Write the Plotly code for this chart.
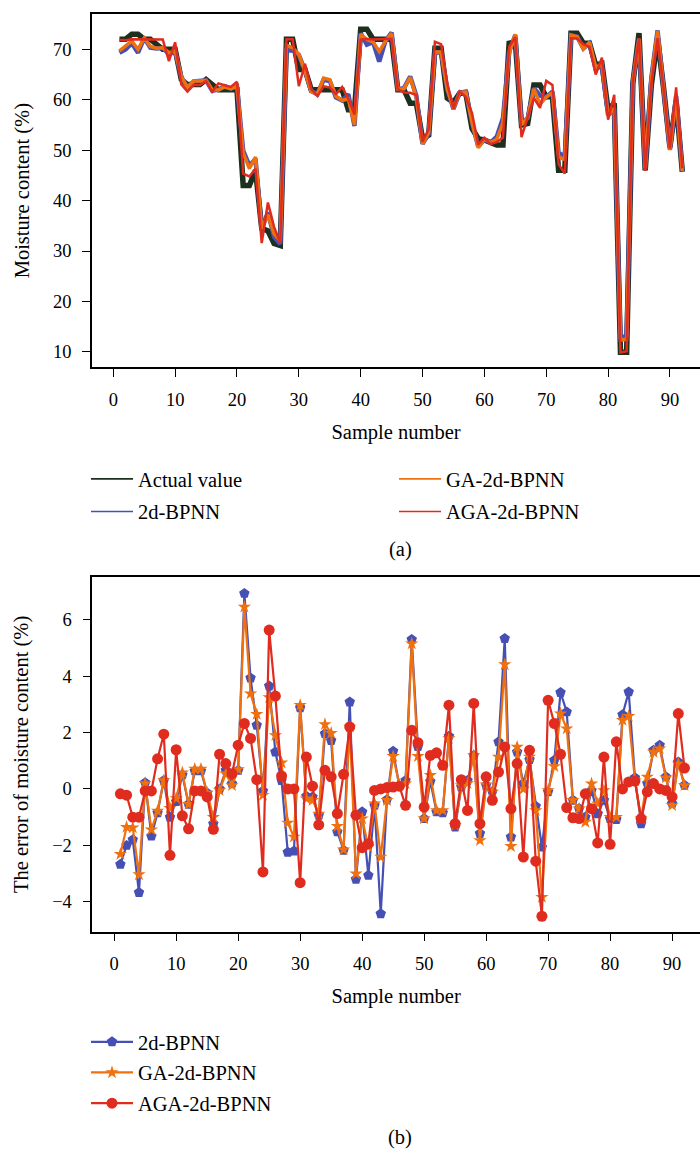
import plotly.graph_objects as go

samples = list(range(1, 93))

actual = [72, 72, 73, 73, 72, 72, 71, 70, 70, 70,
          64, 63, 63, 63, 64, 63, 62, 62, 62, 62,
          43, 43, 46, 34.5, 34, 31.5, 31.1, 72, 72, 66,
          66, 62, 62, 62, 62, 62, 62, 58, 58, 74,
          74, 72, 72, 72, 72, 62, 62, 59.3, 59.3, 52.3,
          53, 70.2, 70.2, 60.3, 59.5, 61.3, 61.3, 54.3, 52.3, 52,
          51.6, 51, 51, 71.2, 71.5, 55, 55.3, 62.9, 62.9, 60.6,
          60.6, 46, 46, 73.2, 73.2, 71.2, 71.2, 66.9, 67.2, 58,
          59.3, 9.9, 9.9, 63.2, 73.2, 46, 63, 72.2, 62, 50.6,
          59.8, 45.7]

pred_2d = [69.33, 70.0, 71.2, 69.33, 72.22, 70.33, 70.16, 70.3, 69.0, 69.55,
           64.5, 62.46, 63.64, 63.64, 63.86, 61.77, 62.0, 62.66, 62.19, 62.66,
           49.93, 46.93, 48.26, 34.43, 37.65, 32.81, 31.4, 69.76, 69.8, 68.88,
           65.74, 61.72, 61.07, 63.96, 63.72, 60.48, 59.83, 61.08, 54.8, 73.19,
           70.94, 71.42, 67.58, 71.62, 73.34, 62.1, 62.3, 64.6, 60.8, 51.25,
           53.27, 69.39, 69.36, 62.17, 58.15, 61.37, 61.6, 55.49, 50.72, 52.13,
           51.5, 52.67, 56.33, 69.5, 72.81, 55.2, 56.34, 62.29, 60.84, 60.5,
           61.62, 49.42, 48.73, 72.8, 72.5, 70.2, 71.15, 66.02, 66.8, 56.95,
           58.22, 12.53, 13.34, 63.6, 71.97, 46.2, 64.37, 73.75, 62.43, 50.08,
           60.76, 45.83]

pred_ga = [69.69, 70.65, 71.63, 69.97, 72.2, 70.56, 70.22, 70.3, 69.32, 69.67,
           64.58, 62.46, 63.71, 63.71, 63.86, 62.0, 61.95, 62.54, 62.13, 62.69,
           49.45, 46.38, 48.65, 34.28, 37.24, 33.4, 32.03, 70.8, 70.3, 68.97,
           65.66, 61.6, 61.12, 64.29, 63.98, 60.68, 59.85, 60.2, 55.0, 72.95,
           71.95, 71.48, 69.59, 71.6, 73.16, 62.15, 62.19, 64.45, 60.46, 51.25,
           53.49, 69.44, 69.44, 62.09, 58.21, 61.43, 61.5, 55.49, 50.48, 52.15,
           51.5, 52.14, 55.41, 69.17, 72.99, 55.0, 56.44, 62.14, 59.07, 60.55,
           61.4, 48.67, 48.14, 72.8, 72.5, 70.03, 71.39, 66.38, 67.15, 57.0,
           58.3, 12.34, 12.48, 63.5, 72.15, 46.43, 64.31, 73.63, 62.4, 50.02,
           60.7, 45.83]

pred_aga = [71.83, 71.78, 72.0, 72.0, 71.93, 71.93, 72.07, 71.94, 67.65, 71.39,
            63.05, 61.59, 62.93, 62.93, 63.72, 61.57, 63.23, 62.9, 62.54, 63.55,
            45.32, 44.79, 46.33, 31.56, 39.63, 34.79, 31.56, 72.0, 72.0, 62.68,
            67.13, 62.1, 60.73, 62.66, 62.43, 61.13, 62.52, 60.2, 57.07, 71.92,
            72.06, 71.95, 72.0, 72.05, 72.07, 62.1, 61.42, 61.38, 60.94, 51.66,
            54.19, 71.48, 71.04, 63.27, 58.27, 61.63, 60.54, 57.33, 51.07, 52.43,
            51.2, 51.6, 52.49, 70.5, 72.4, 52.59, 56.67, 60.34, 58.39, 63.74,
            62.92, 47.23, 45.34, 72.18, 72.15, 71.03, 70.5, 64.99, 68.33, 56.04,
            60.97, 9.9, 10.15, 63.48, 72.15, 45.9, 63.19, 72.2, 61.95, 50.32,
            62.47, 46.44]

err_2d = [-2.67, -2.0, -1.8, -3.67, 0.22, -1.67, -0.84, 0.3, -1.0, -0.45,
          0.5, -0.54, 0.64, 0.64, -0.14, -1.23, 0.0, 0.66, 0.19, 0.66,
          6.93, 3.93, 2.26, -0.07, 3.65, 1.31, 0.3, -2.24, -2.2, 2.88,
          -0.26, -0.28, -0.93, 1.96, 1.72, -1.52, -2.17, 3.08, -3.2, -0.81,
          -3.06, -0.58, -4.42, -0.38, 1.34, 0.1, 0.3, 5.3, 1.5, -1.05,
          0.27, -0.81, -0.84, 1.87, -1.35, 0.07, 0.3, 1.19, -1.58, 0.13,
          -0.1, 1.67, 5.33, -1.7, 1.31, 0.2, 1.04, -0.61, -2.06, -0.1,
          1.02, 3.42, 2.73, -0.4, -0.7, -1.0, -0.05, -0.88, -0.4, -1.05,
          -1.08, 2.63, 3.44, 0.4, -1.23, 0.2, 1.37, 1.55, 0.43, -0.52,
          0.96, 0.13]

err_ga = [-2.31, -1.35, -1.37, -3.03, 0.2, -1.44, -0.78, 0.3, -0.68, -0.33,
          0.58, -0.54, 0.71, 0.71, -0.14, -1.0, -0.05, 0.54, 0.13, 0.69,
          6.45, 3.38, 2.65, -0.22, 3.24, 1.9, 0.93, -1.2, -1.7, 2.97,
          -0.34, -0.4, -0.88, 2.29, 1.98, -1.32, -2.15, 2.2, -3.0, -1.05,
          -2.05, -0.52, -2.41, -0.4, 1.16, 0.15, 0.19, 5.15, 1.16, -1.05,
          0.49, -0.76, -0.76, 1.79, -1.29, 0.13, 0.2, 1.19, -1.82, 0.15,
          -0.1, 1.14, 4.41, -2.03, 1.49, 0.0, 1.14, -0.76, -3.83, -0.05,
          0.8, 2.67, 2.14, -0.4, -0.7, -1.17, 0.19, -0.52, -0.05, -1.0,
          -1.0, 2.44, 2.58, 0.3, -1.05, 0.43, 1.31, 1.43, 0.4, -0.58,
          0.9, 0.13]

err_aga = [-0.17, -0.22, -1.0, -1.0, -0.07, -0.07, 1.07, 1.94, -2.35, 1.39,
           -0.95, -1.41, -0.07, -0.07, -0.28, -1.43, 1.23, 0.9, 0.54, 1.55,
           2.32, 1.79, 0.33, -2.94, 5.63, 3.29, 0.46, 0.0, 0.0, -3.32,
           1.13, 0.1, -1.27, 0.66, 0.43, -0.87, 0.52, 2.2, -0.93, -2.08,
           -1.94, -0.05, 0.0, 0.05, 0.07, 0.1, -0.58, 2.08, 1.64, -0.64,
           1.19, 1.28, 0.84, 2.97, -1.23, 0.33, -0.76, 3.03, -1.23, 0.43,
           -0.4, 0.6, 1.49, -0.7, 0.9, -2.41, 1.37, -2.56, -4.51, 3.14,
           2.32, 1.23, -0.66, -1.02, -1.05, -0.17, -0.7, -1.91, 1.13, -1.96,
           1.67, 0.0, 0.25, 0.28, -1.05, -0.1, 0.19, 0.0, -0.05, -0.28,
           2.67, 0.74]

x_ticks = [0, 10, 20, 30, 40, 50, 60, 70, 80, 90]
y_ticks_a = [10, 20, 30, 40, 50, 60, 70]
y_ticks_b = [-4, -2, 0, 2, 4, 6]

C_ACT = "#1d2f1d"
C_2D = "#4650b4"
C_GA = "#f0700f"
C_AGA = "#e02c1e"
FONT = "Liberation Serif"

fig = go.Figure()

# ---- panel (a): data lines
fig.add_trace(go.Scatter(x=samples, y=actual, mode="lines", line=dict(color=C_ACT, width=5.5),
                         showlegend=False, xaxis="x", yaxis="y"))
fig.add_trace(go.Scatter(x=samples, y=pred_2d, mode="lines", line=dict(color=C_2D, width=4.5),
                         showlegend=False, xaxis="x", yaxis="y"))
fig.add_trace(go.Scatter(x=samples, y=pred_ga, mode="lines", line=dict(color=C_GA, width=3.5),
                         showlegend=False, xaxis="x", yaxis="y"))
fig.add_trace(go.Scatter(x=samples, y=pred_aga, mode="lines", line=dict(color=C_AGA, width=2.5),
                         showlegend=False, xaxis="x", yaxis="y"))

# ---- panel (a): legend entries (thin lines)
for name, col, leg in [("Actual value", C_ACT, "legend"), ("2d-BPNN", C_2D, "legend"),
                       ("GA-2d-BPNN", C_GA, "legend2"), ("AGA-2d-BPNN", C_AGA, "legend2")]:
    fig.add_trace(go.Scatter(x=[None], y=[None], mode="lines", name=name,
                             line=dict(color=col, width=1.6), legend=leg, legendgroup=name,
                             xaxis="x", yaxis="y"))

# ---- panel (b)
fig.add_trace(go.Scatter(x=samples, y=err_2d, mode="lines+markers", name="2d-BPNN",
                         line=dict(color=C_2D, width=2.2),
                         marker=dict(symbol="pentagon", size=11, color=C_2D),
                         legend="legend3", legendgroup="b1", xaxis="x2", yaxis="y2"))
fig.add_trace(go.Scatter(x=samples, y=err_ga, mode="lines+markers", name="GA-2d-BPNN",
                         line=dict(color=C_GA, width=2.2),
                         marker=dict(symbol="star", size=10, color=C_GA),
                         legend="legend3", legendgroup="b2", xaxis="x2", yaxis="y2"))
fig.add_trace(go.Scatter(x=samples, y=err_aga, mode="lines+markers", name="AGA-2d-BPNN",
                         line=dict(color=C_AGA, width=2.2),
                         marker=dict(symbol="circle", size=11, color=C_AGA),
                         legend="legend3", legendgroup="b3", xaxis="x2", yaxis="y2"))

W, H = 700, 1155
def py(p):
    return 1 - p / H

axis_common = dict(showline=True, linecolor="black", linewidth=1.5, ticks="outside",
                   ticklen=8, tickwidth=1.2, tickcolor="black", showgrid=False, zeroline=False,
                   tickfont=dict(family=FONT, size=18.5, color="black"))

leg_common = dict(font=dict(family=FONT, size=20.5, color="black"), bgcolor="rgba(0,0,0,0)",
                  xanchor="left", yanchor="top", itemwidth=42)

TF = dict(family=FONT, size=20.5, color="black")

fig.update_layout(
    width=W, height=H, margin=dict(l=0, r=0, t=0, b=0),
    paper_bgcolor="white", plot_bgcolor="white",
    font=dict(family=FONT, size=18, color="black"),
    xaxis=dict(domain=[92 / W, 1.0], range=[-3.44, 94.86], tickvals=x_ticks, mirror=True,
               ticklabelstandoff=7,
               title=dict(text="Sample number", font=TF, standoff=15),
               anchor="y", **axis_common),
    yaxis=dict(domain=[py(367.3), py(14)], range=[6.94, 77.0], tickvals=y_ticks_a,
               ticklabelstandoff=7,
               title=dict(text="Moisture content (%)", font=TF, standoff=18),
               anchor="x", **axis_common),
    xaxis2=dict(domain=[92.3 / W, 1.0], range=[-3.53, 94.5], tickvals=x_ticks, mirror=True,
                ticklabelstandoff=7,
                title=dict(text="Sample number", font=TF, standoff=15),
                anchor="y2", **axis_common),
    yaxis2=dict(domain=[py(931.5), py(577.3)], range=[-5.05, 7.5], tickvals=y_ticks_b,
                ticklabelstandoff=7,
                title=dict(text="The error of moisture content (%)", font=TF, standoff=18),
                anchor="x2", **axis_common),
    legend=dict(x=86 / W, y=py(459), tracegroupgap=3, **leg_common),
    legend2=dict(x=394 / W, y=py(459), tracegroupgap=3, **leg_common),
    legend3=dict(x=86 / W, y=py(1022), tracegroupgap=1, **leg_common),
    annotations=[
        dict(text="(a)", x=400 / W, y=py(549), xref="paper", yref="paper", showarrow=False,
             font=TF, xanchor="center", yanchor="middle"),
        dict(text="(b)", x=400 / W, y=py(1137), xref="paper", yref="paper", showarrow=False,
             font=TF, xanchor="center", yanchor="middle"),
    ],
)

fig.write_html("out.html")
